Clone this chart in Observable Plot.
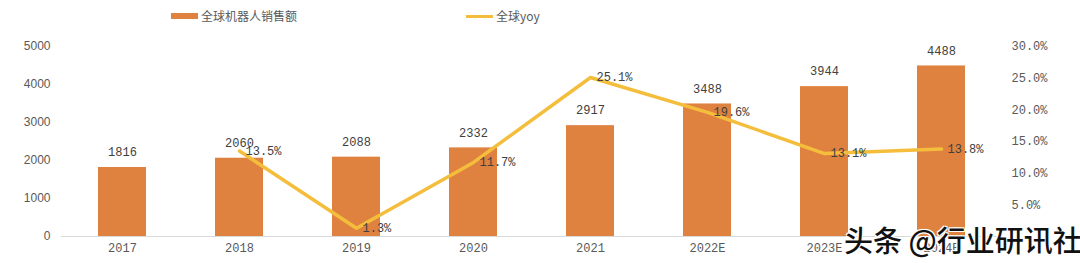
<!DOCTYPE html>
<html>
<head>
<meta charset="utf-8">
<script src="https://cdn.jsdelivr.net/npm/d3@7"></script>
<script src="https://cdn.jsdelivr.net/npm/@observablehq/plot@0.6"></script>
<style>
  html, body { margin: 0; padding: 0; background: #fff; }
  #wrap { position: relative; width: 1080px; height: 263px; overflow: hidden; }
  .leg { position: absolute; top: 7px; font-family: "Noto Sans CJK SC", sans-serif; font-size: 12px; color: #595959; display: flex; align-items: center; line-height: 18px; }
  .sw { display: inline-block; width: 27px; margin-right: 3px; }
  #wm { position: absolute; left: 844px; top: 218px; font-family: "Noto Sans CJK SC", sans-serif; font-size: 29px; font-weight: 500; color: #111; white-space: nowrap;
        text-shadow: -1px -1px 0 #fff, 1px -1px 0 #fff, -1px 1px 0 #fff, 1px 1px 0 #fff, 0 0 2px #fff; }
</style>
</head>
<body>
<div id="wrap"></div>
<script>
const years = ["2017", "2018", "2019", "2020", "2021", "2022E", "2023E", "2024E"];
const sales = [1816, 2060, 2088, 2332, 2917, 3488, 3944, 4488];
const yoyYears = ["2018", "2019", "2020", "2021", "2022E", "2023E", "2024E"];
const yoy = [13.5, 1.3, 11.7, 25.1, 19.6, 13.1, 13.8];
const leftTicks = [0, 1000, 2000, 3000, 4000, 5000];
const pctTicks = [5, 10, 15, 20, 25, 30];
const seriesNames = ["全球机器人销售额", "全球yoy"];

const LMAX = 5000, RMAX = 30;
const toLeft = p => p * LMAX / RMAX;

const barColor = "#E0823F";
const lineColor = "#F4BE3C";

const bars = years.map((y, i) => ({year: y, value: sales[i]}));
const line = yoyYears.map((y, i) => ({year: y, pct: yoy[i], v: toLeft(yoy[i])}));

const chart = Plot.plot({
  width: 1080,
  height: 263,
  marginTop: 46,
  marginBottom: 27,
  marginLeft: 61,
  marginRight: 79,
  style: {background: "transparent", overflow: "visible"},
  x: {domain: years, paddingInner: 0.59, paddingOuter: 0.295, axis: null},
  y: {domain: [0, LMAX], axis: null},
  marks: [
    Plot.barY(bars, {x: "year", y: "value", fill: barColor}),
    Plot.ruleY([0], {stroke: "#D9D9D9", strokeWidth: 1}),
    Plot.axisY({anchor: "left", ticks: leftTicks, tickSize: 0, tickPadding: 11, tickFormat: d => String(d),
      fontSize: 12, fontFamily: "Liberation Sans, Arial, sans-serif", color: "#595959", label: null}),
    Plot.axisY({anchor: "right", ticks: pctTicks.map(toLeft), tickSize: 0, tickPadding: 10,
      tickFormat: d => (d * RMAX / LMAX).toFixed(1) + "%",
      fontSize: 12, fontFamily: "Liberation Mono, DejaVu Sans Mono, monospace", color: "#595959", label: null}),
    Plot.axisX({anchor: "bottom", tickSize: 0, tickPadding: 7,
      fontSize: 12, fontFamily: "Liberation Mono, DejaVu Sans Mono, monospace", color: "#595959", label: null}),
    Plot.text(bars, {x: "year", y: "value", text: d => String(d.value), dy: -15,
      fontSize: 12, fontFamily: "Liberation Mono, DejaVu Sans Mono, monospace", fill: "#404040"}),
    Plot.line(line, {x: "year", y: "v", stroke: lineColor, strokeWidth: 3.5, strokeLinejoin: "miter"}),
    Plot.text(line, {x: "year", y: "v", text: d => d.pct.toFixed(1) + "%", textAnchor: "start", dx: 6,
      fontSize: 12, fontFamily: "Liberation Mono, DejaVu Sans Mono, monospace", fill: "#404040"})
  ]
});

const wrap = document.getElementById("wrap");
wrap.appendChild(chart);

function legendItem(left, color, h, name) {
  const d = document.createElement("div");
  d.className = "leg";
  d.style.left = left + "px";
  const s = document.createElement("span");
  s.className = "sw";
  s.style.height = h + "px";
  s.style.background = color;
  d.appendChild(s);
  d.appendChild(document.createTextNode(name));
  wrap.appendChild(d);
}
legendItem(171, barColor, 6, seriesNames[0]);
legendItem(466, lineColor, 3, seriesNames[1]);

const wm = document.createElement("div");
wm.id = "wm";
wm.textContent = "头条 @行业研讯社";
wrap.appendChild(wm);
</script>
</body>
</html>
